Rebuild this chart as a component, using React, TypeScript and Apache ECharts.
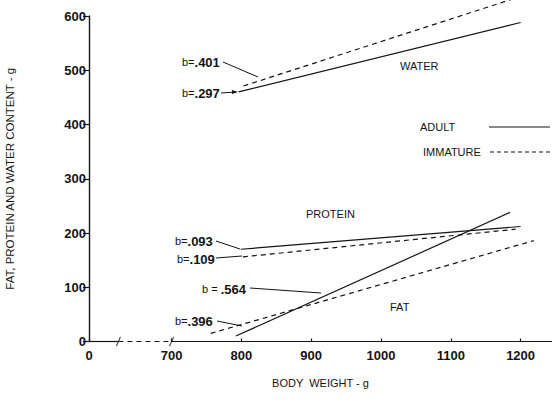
import React, { useEffect, useRef } from 'react';
import * as echarts from 'echarts';

// Broken x scale: 0 is drawn at X_ZERO, the scale is continuous from 700 g upward.
const X_ZERO = 581.6;
const X_BREAK = 623.8;
const X_MAX = 1245;
const xTickValues = [X_ZERO, 700, 800, 900, 1000, 1100, 1200];
const yTickValues = [0, 100, 200, 300, 400, 500, 600];

const adultWater = [[796, 460], [1200, 588]];
const immatureWater = [[803, 471], [1200, 636]];
const adultProtein = [[799, 170], [1200, 212]];
const immatureProtein = [[802, 156], [1193, 207]];
const adultFat = [[792, 10], [1185, 238]];
const immatureFat = [[756, 15], [1219, 186]];

const axisSolidA = [[X_ZERO, 0], [X_BREAK, 0]];
const axisDashed = [[X_BREAK, 0], [700, 0]];
const axisSolidB = [[700, 0], [X_MAX, 0]];
const breakMarks = [[X_BREAK, 0], [700, 0]];

const slopeLabels = ['.401', '.297', '.093', '.109', '.564', '.396'];

const INK = '#141414';
const FONT = '"Liberation Sans", Arial, sans-serif';

export default function App() {
  const ref = useRef<HTMLDivElement>(null);
  useEffect(() => {
    document.body.style.margin = '0';
    const chart = echarts.init(ref.current!, null, { renderer: 'svg' });
    const lineSeries = (data: number[][], dashed: boolean) => ({
      type: 'line',
      data,
      symbol: 'none',
      clip: false,
      silent: true,
      lineStyle: { color: INK, width: 1.2, type: dashed ? [5, 4] : 'solid' },
    });
    const bLabel = (x: number, y: number, value: string, spaced = false) => ({
      type: 'text',
      x,
      y,
      style: {
        text: `{s|${spaced ? 'b = ' : 'b='}}{n|${value}}`,
        align: 'left',
        verticalAlign: 'middle',
        rich: {
          s: { font: `11px ${FONT}`, fill: INK },
          n: { font: `bold 13px ${FONT}`, fill: INK },
        },
      },
    });
    const lead = (x1: number, y1: number, x2: number, y2: number) => ({
      type: 'line',
      shape: { x1, y1, x2, y2 },
      style: { stroke: INK, lineWidth: 1 },
    });
    const label = (x: number, y: number, text: string) => ({
      type: 'text',
      x,
      y,
      style: { text, font: `11px ${FONT}`, fill: INK, align: 'left', verticalAlign: 'middle' },
    });
    chart.setOption({
      animation: false,
      backgroundColor: '#fff',
      grid: { left: 89, right: 8, top: 16, bottom: 63.5, outerBoundsMode: 'none', containLabel: false },
      xAxis: {
        type: 'value',
        min: X_ZERO,
        max: X_MAX,
        name: 'BODY  WEIGHT - g',
        nameLocation: 'middle',
        nameGap: 36,
        nameTextStyle: { fontFamily: FONT, fontSize: 11, color: INK },
        axisLine: { show: false },
        splitLine: { show: false },
        axisTick: {
          show: true,
          inside: true,
          length: 3,
          customValues: xTickValues,
          lineStyle: { color: INK, width: 1.2 },
        },
        axisLabel: {
          customValues: xTickValues,
          margin: 7,
          fontFamily: FONT,
          fontSize: 13,
          fontWeight: 'bold',
          color: INK,
          formatter: (v: number) => (Math.abs(v - X_ZERO) < 1e-6 ? '0' : String(v)),
        },
      },
      yAxis: {
        type: 'value',
        min: 0,
        max: 600,
        interval: 100,
        name: 'FAT, PROTEIN AND WATER CONTENT - g',
        nameLocation: 'middle',
        nameGap: 73,
        nameRotate: 90,
        nameTextStyle: { fontFamily: FONT, fontSize: 11.5, color: INK },
        axisLine: { show: true, lineStyle: { color: INK, width: 1.4 } },
        splitLine: { show: false },
        axisTick: { show: true, length: 6, lineStyle: { color: INK, width: 1.2 } },
        axisLabel: {
          margin: 3,
          fontFamily: FONT,
          fontSize: 13,
          fontWeight: 'bold',
          color: INK,
          formatter: (v: number) => (yTickValues.includes(v) ? String(v) : ''),
        },
      },
      series: [
        lineSeries(axisSolidA, false),
        lineSeries(axisDashed, true),
        lineSeries(axisSolidB, false),
        {
          type: 'scatter',
          data: breakMarks,
          symbol: 'path://M0,10 L4,0',
          symbolSize: [4, 9],
          silent: true,
          itemStyle: { color: 'none', borderColor: INK, borderWidth: 1.2 },
        },
        lineSeries(adultWater, false),
        lineSeries(immatureWater, true),
        lineSeries(adultProtein, false),
        lineSeries(immatureProtein, true),
        lineSeries(adultFat, false),
        lineSeries(immatureFat, true),
      ],
      graphic: [
        bLabel(182, 62, slopeLabels[0]),
        lead(223, 62, 258, 77),
        bLabel(182, 93, slopeLabels[1]),
        lead(221, 93, 236, 92),
        { type: 'polygon', shape: { points: [[238, 92], [232, 90], [232, 94]] }, style: { fill: INK } },
        bLabel(175, 241, slopeLabels[2]),
        lead(216, 241, 240, 249),
        bLabel(177, 259, slopeLabels[3]),
        lead(216, 258, 242, 256),
        bLabel(202, 289, slopeLabels[4], true),
        lead(250, 288, 321, 293),
        bLabel(175, 321, slopeLabels[5]),
        lead(217, 321, 242, 326),
        label(400, 66, 'WATER'),
        label(306, 214, 'PROTEIN'),
        label(390, 307, 'FAT'),
        label(420, 127, 'ADULT'),
        lead(489, 127, 550, 127),
        label(423, 152, 'IMMATURE'),
        {
          type: 'line',
          shape: { x1: 490, y1: 152, x2: 550, y2: 152 },
          style: { stroke: INK, lineWidth: 1, lineDash: [4, 3] },
        },
      ],
    });
    return () => chart.dispose();
  }, []);
  return <div ref={ref} style={{ width: 560, height: 405 }} />;
}
